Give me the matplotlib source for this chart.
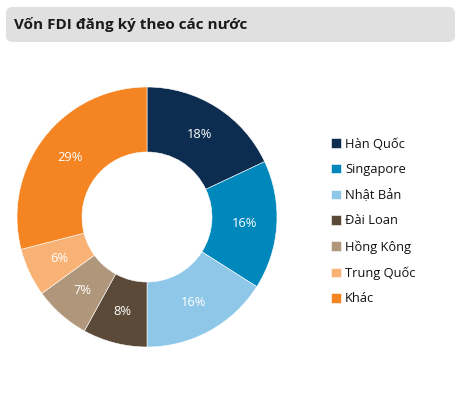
import matplotlib.pyplot as plt
from matplotlib.patches import FancyBboxPatch

plt.rcParams['font.family'] = ['Open Sans', 'DejaVu Sans']

# data
countries = ['Hàn Quốc', 'Singapore', 'Nhật Bản', 'Đài Loan', 'Hồng Kông', 'Trung Quốc', 'Khác']
shares = [18, 16, 16, 8, 7, 6, 29]
colors = ['#0C2D4F', '#0088BC', '#8FC7E8', '#5B4A38', '#B0967A', '#F9B275', '#F58423']

W, H = 460, 404
fig = plt.figure(figsize=(W / 100, H / 100), dpi=100)

# title bar
box = FancyBboxPatch((6 / W, 1 - 42 / H), 449 / W, 35 / H,
                     boxstyle='round,pad=0,rounding_size=0.015',
                     transform=fig.transFigure, facecolor='#E0E0E0',
                     edgecolor='none')
fig.patches.append(box)
fig.text(14 / W, 1 - 24.5 / H, 'Vốn FDI đăng ký theo các nước',
         fontsize=11, fontweight='bold', color='#1a1a1a', va='center', ha='left')

# donut
cx, cy, r = 147, 217, 130
ax = fig.add_axes([(cx - r) / W, (H - cy - r) / H, 2 * r / W, 2 * r / H])
wedges, texts, autotexts = ax.pie(
    shares, colors=colors, startangle=90, counterclock=False,
    radius=1, autopct='%d%%', pctdistance=0.75,
    wedgeprops=dict(width=0.5, edgecolor='white', linewidth=0.4),
    textprops=dict(color='white', fontsize=9.3))
ax.set_xlim(-1, 1)
ax.set_ylim(-1, 1)
ax.axis('off')

fig.legend(wedges, countries, loc='upper left',
           bbox_to_anchor=(331 / W, 1 - 137.5 / H), frameon=False,
           fontsize=9.3, labelcolor='#111111', handlelength=0.75,
           handleheight=0.75, handletextpad=0.35, labelspacing=0.98,
           borderpad=0, borderaxespad=0)

fig.savefig('out.png', dpi=100)
